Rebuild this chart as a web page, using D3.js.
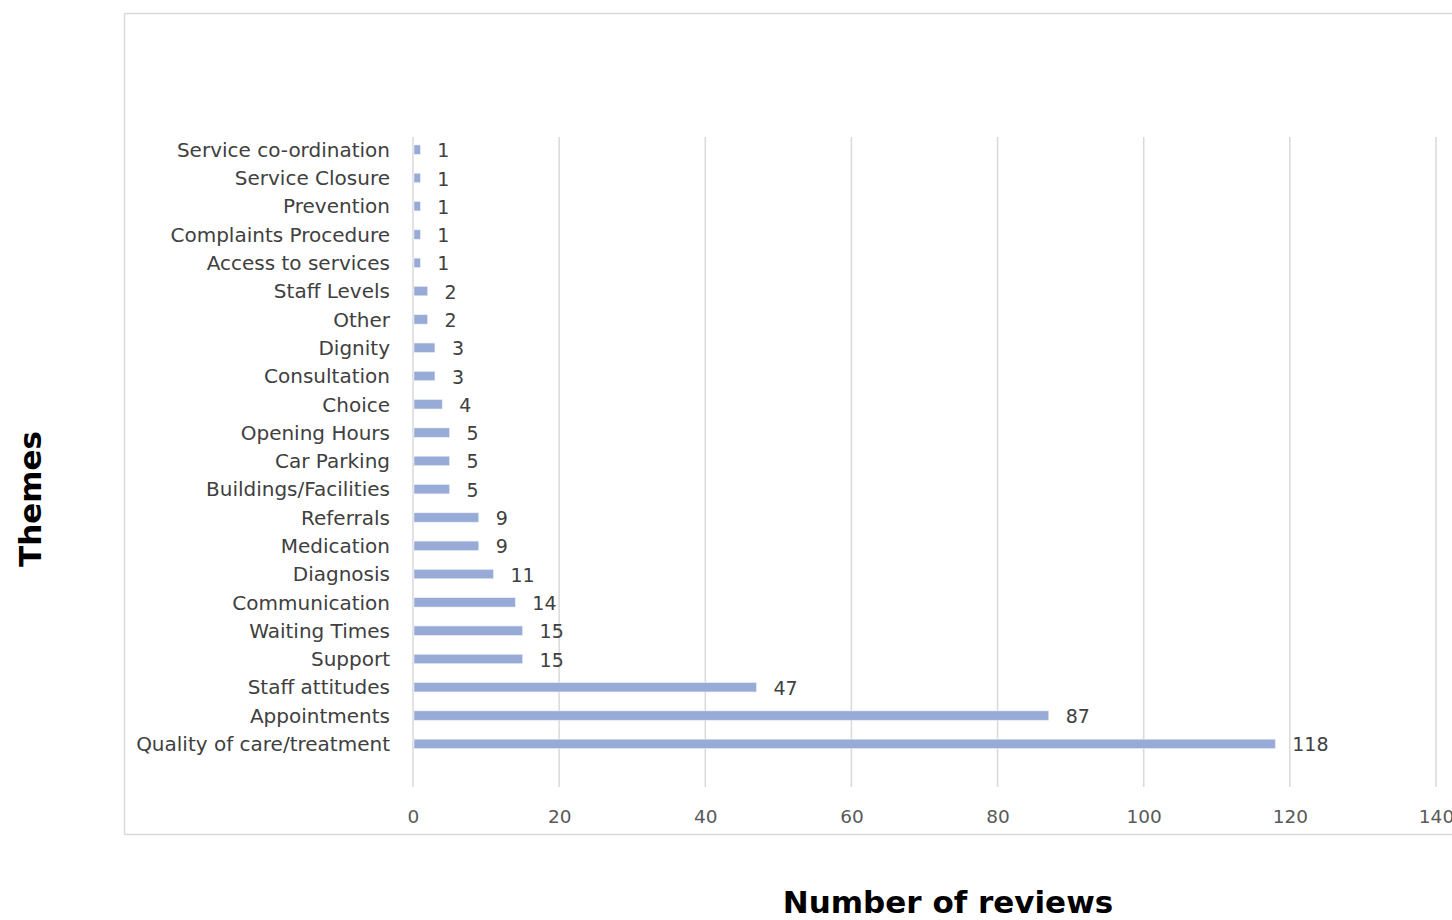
<!DOCTYPE html>
<html>
<head>
<meta charset="utf-8">
<script src="https://cdn.jsdelivr.net/npm/d3@7"></script>
<style>
  html, body { margin: 0; padding: 0; background: #fff; }
  svg { display: block; }
</style>
</head>
<body>
<svg id="chart" width="1452" height="920"></svg>
<script>
// Review themes, listed top to bottom as drawn
const themes = [
  "Service co-ordination", "Service Closure", "Prevention", "Complaints Procedure",
  "Access to services", "Staff Levels", "Other", "Dignity", "Consultation", "Choice",
  "Opening Hours", "Car Parking", "Buildings/Facilities", "Referrals", "Medication",
  "Diagnosis", "Communication", "Waiting Times", "Support", "Staff attitudes",
  "Appointments", "Quality of care/treatment"
];
const reviewCounts = [1, 1, 1, 1, 1, 2, 2, 3, 3, 4, 5, 5, 5, 9, 9, 11, 14, 15, 15, 47, 87, 118];
const xTicks = [0, 20, 40, 60, 80, 100, 120, 140];

const data = themes.map((t, i) => ({ theme: t, value: reviewCounts[i] }));

const svg = d3.select("#chart");
const labelFont = "'DejaVu Sans', Verdana, sans-serif";

// chart frame
svg.append("rect")
  .attr("x", 124.5).attr("y", 13.5)
  .attr("width", 1400).attr("height", 821)
  .attr("fill", "#fff").attr("stroke", "#d9d9d9").attr("stroke-width", 1.5);

const x = d3.scaleLinear().domain([0, 140]).range([413, 1436]);
const y = d3.scaleBand().domain(themes)
  .range([135.5, 758]).paddingInner(0.67).paddingOuter(0.335);

// vertical gridlines
svg.append("g").selectAll("line").data(xTicks).join("line")
  .attr("x1", d => x(d)).attr("x2", d => x(d))
  .attr("y1", 137).attr("y2", 787)
  .attr("stroke", "#d9d9d9").attr("stroke-width", 1.5);

// x axis tick labels
const xAxis = d3.axisBottom(x).tickValues(xTicks).tickSize(0).tickPadding(0);
const gx = svg.append("g").attr("transform", "translate(0,823)").call(xAxis);
gx.select(".domain").remove();
gx.selectAll("text")
  .attr("dy", 0).attr("y", 0)
  .attr("font-family", labelFont).attr("font-size", 18.5).attr("fill", "#595959");

// y axis category labels
const yAxis = d3.axisLeft(y).tickSize(0).tickPadding(0);
const gy = svg.append("g").attr("transform", "translate(390,0)").call(yAxis);
gy.select(".domain").remove();
gy.selectAll("text")
  .attr("font-family", labelFont).attr("font-size", 20).attr("fill", "#404040")
  .attr("dy", "0.36em");

// bars
svg.append("g").selectAll("rect").data(data).join("rect")
  .attr("x", x(0) + 1)
  .attr("y", d => y(d.theme))
  .attr("width", d => x(d.value) - x(0) - 1)
  .attr("height", y.bandwidth())
  .attr("fill", "#97abd6")
  .attr("stroke", "#e6ebf5").attr("stroke-width", 0.6);

// value labels
svg.append("g").selectAll("text").data(data).join("text")
  .attr("x", d => x(d.value) + 17)
  .attr("y", d => y(d.theme) + y.bandwidth() / 2)
  .attr("dy", "0.4em")
  .attr("font-family", labelFont).attr("font-size", 19).attr("fill", "#404040")
  .text(d => d.value);

// axis titles
svg.append("text")
  .attr("transform", "translate(41,499) rotate(-90)")
  .attr("text-anchor", "middle")
  .attr("font-family", "'DejaVu Sans', sans-serif").attr("font-weight", "bold")
  .attr("font-size", 31).attr("fill", "#000")
  .text("Themes");

svg.append("text")
  .attr("x", 948).attr("y", 913)
  .attr("text-anchor", "middle")
  .attr("font-family", "'DejaVu Sans', sans-serif").attr("font-weight", "bold")
  .attr("font-size", 31).attr("fill", "#000")
  .text("Number of reviews");
</script>
</body>
</html>
